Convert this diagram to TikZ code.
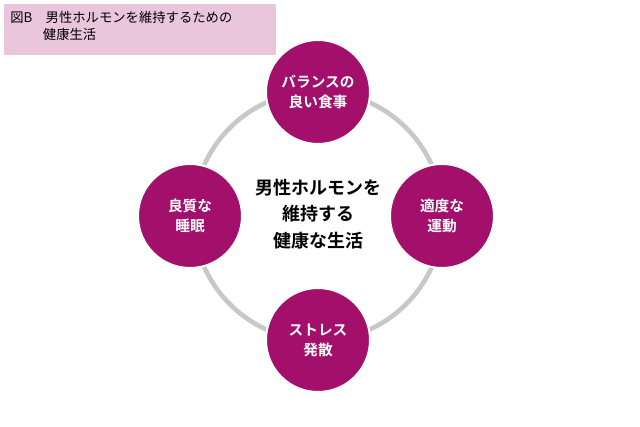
\documentclass[tikz,border=0pt]{standalone}
\usepackage{fontspec}
\setmainfont{Noto Sans CJK JP}
\newfontfamily\jpbold{Noto Sans CJK JP Bold}
\definecolor{plum}{HTML}{A3106C}
\definecolor{ringgray}{HTML}{C8C8C8}
\definecolor{titlepink}{HTML}{E9C6DC}
\begin{document}
\begin{tikzpicture}[x=0.75pt,y=-0.75pt]
    \tikzstyle{habit}=[circle,fill=plum,draw=white,line width=1.5pt,minimum size=78pt,text=white,align=center,font=\jpbold\fontsize{11}{15}\selectfont]
    \useasboundingbox (0,0) rectangle (640,427);
    \fill[titlepink] (4,4) rectangle (276,55);
    \node[anchor=north west,align=left,font=\fontsize{10}{13}\selectfont,inner sep=0pt] (title) at (10,11) {図B\quad 男性ホルモンを維持するための\\\hspace{2.45em}健康生活};
    \node[circle,draw=ringgray,line width=3.5pt,minimum size=187pt] (ring) at (318,216) {};
    \node[habit] (food) at (318,92) {バランスの\\良い食事};
    \node[habit] (sleep) at (190,216) {良質な\\睡眠};
    \node[habit] (exercise) at (442,216) {適度な\\運動};
    \node[habit] (stress) at (318,340) {ストレス\\発散};
    \node[align=center,font=\jpbold\fontsize{13.5}{20}\selectfont] (theme) at (318,214) {男性ホルモンを\\維持する\\健康な生活};
\end{tikzpicture}
\end{document}
